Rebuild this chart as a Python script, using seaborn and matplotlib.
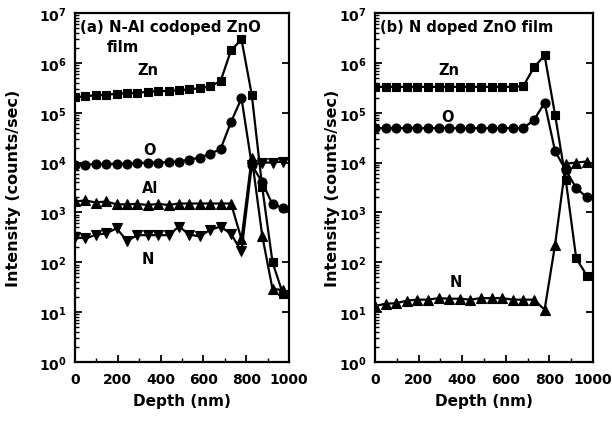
import math
import matplotlib
matplotlib.use("Agg")
import matplotlib.pyplot as plt
import seaborn as sns
import pandas as pd
from matplotlib.ticker import FixedLocator, LogLocator, NullFormatter, FuncFormatter

# ---------------- data ----------------
depth = [0, 49, 97, 146, 194, 243, 292, 340, 389, 437, 486,
         535, 583, 632, 680, 729, 778, 826, 875, 923, 972]

# (a) N-Al codoped ZnO film
a_zn = [2.04e5, 2.14e5, 2.24e5, 2.29e5, 2.40e5, 2.45e5, 2.51e5, 2.63e5, 2.69e5, 2.75e5, 2.82e5,
        2.95e5, 3.09e5, 3.39e5, 4.27e5, 1.78e6, 2.95e6, 2.29e5, 3.2e3, 1.0e2, 2.3e1]
a_o = [8.9e3, 9.1e3, 9.3e3, 9.3e3, 9.5e3, 9.5e3, 9.8e3, 1.0e4, 1.0e4, 1.02e4, 1.05e4,
       1.15e4, 1.26e4, 1.5e4, 1.86e4, 6.5e4, 1.95e5, 9.0e3, 4.0e3, 1.45e3, 1.23e3]
a_al = [1.66e3, 1.74e3, 1.58e3, 1.66e3, 1.45e3, 1.45e3, 1.48e3, 1.41e3, 1.48e3, 1.41e3, 1.51e3,
        1.51e3, 1.51e3, 1.51e3, 1.51e3, 1.51e3, 2.9e2, 1.26e4, 3.4e2, 2.9e1, 2.8e1]
a_n = [3.2e2, 3.0e2, 3.55e2, 3.8e2, 4.8e2, 2.7e2, 3.5e2, 3.5e2, 3.5e2, 3.5e2, 5.2e2,
       3.6e2, 3.3e2, 4.5e2, 5.2e2, 3.7e2, 1.66e2, 8.9e3, 1.0e4, 1.0e4, 1.05e4]

# (b) N doped ZnO film
b_zn = [3.3e5, 3.3e5, 3.3e5, 3.3e5, 3.3e5, 3.3e5, 3.3e5, 3.3e5, 3.3e5, 3.3e5, 3.3e5,
        3.3e5, 3.3e5, 3.3e5, 3.4e5, 8.1e5, 1.41e6, 9.1e4, 4.5e3, 1.2e2, 5.4e1]
b_o = [4.9e4, 4.9e4, 4.9e4, 4.9e4, 4.9e4, 4.9e4, 4.9e4, 4.9e4, 4.9e4, 4.9e4, 4.9e4,
       4.9e4, 4.9e4, 4.9e4, 4.9e4, 7.1e4, 1.58e5, 1.7e4, 7.0e3, 3.1e3, 2.0e3]
b_n = [1.32e1, 1.48e1, 1.51e1, 1.70e1, 1.78e1, 1.78e1, 1.91e1, 1.86e1, 1.86e1, 1.78e1, 1.91e1,
       1.91e1, 1.91e1, 1.78e1, 1.78e1, 1.78e1, 1.12e1, 2.24e2, 9.5e3, 1.0e4, 1.05e4]

x_ticks = [0, 200, 400, 600, 800, 1000]
y_decades = [1, 10, 100, 1e3, 1e4, 1e5, 1e6, 1e7]

panel_a_title = ["(a) N-Al codoped ZnO", "film"]
panel_b_title = "(b) N doped ZnO film"

# ---------------- style ----------------
sns.set_theme(style="ticks")
plt.rcParams["font.family"] = ["DejaVu Sans"]
plt.rcParams["font.weight"] = "bold"
plt.rcParams["axes.labelweight"] = "bold"
plt.rcParams["mathtext.default"] = "bf"
for key in ["text.color", "axes.labelcolor", "xtick.color", "ytick.color", "axes.edgecolor"]:
    plt.rcParams[key] = "black"

fig = plt.figure(figsize=(6.12, 4.27), dpi=100)
ax1 = fig.add_axes([75 / 612, 64 / 427, 214 / 612, 349 / 427])
ax2 = fig.add_axes([375 / 612, 64 / 427, 218 / 612, 349 / 427])


def draw(ax, series):
    for vals, marker, ms in series:
        df = pd.DataFrame({"depth": depth, "val": vals})
        sns.lineplot(data=df, x="depth", y="val", ax=ax, color="black",
                     marker=marker, markersize=ms, markeredgecolor="black",
                     markeredgewidth=0.8, linewidth=1.6, estimator=None, sort=False)


draw(ax1, [(a_zn, "s", 6.0), (a_o, "o", 6.5), (a_al, "^", 7.0), (a_n, "v", 7.0)])
draw(ax2, [(b_zn, "s", 6.0), (b_o, "o", 6.5), (b_n, "^", 7.0)])

for ax in (ax1, ax2):
    ax.set_yscale("log")
    ax.set_xlim(0, 1000)
    ax.set_ylim(1, 1e7)
    ax.xaxis.set_major_locator(FixedLocator(x_ticks))
    ax.xaxis.set_minor_locator(FixedLocator([100, 300, 500, 700, 900]))
    ax.yaxis.set_major_locator(FixedLocator(y_decades))
    ax.yaxis.set_minor_locator(LogLocator(base=10, subs=range(2, 10), numticks=20))
    ax.yaxis.set_minor_formatter(NullFormatter())
    ax.yaxis.set_major_formatter(FuncFormatter(
        lambda v, p: r"$\mathbf{10^{%d}}$" % round(math.log10(v))))
    ax.tick_params(axis="both", which="major", direction="in", length=5, width=1.3,
                   labelsize=10, pad=6, right=True, top=False, colors="black")
    ax.tick_params(axis="both", which="minor", direction="in", length=3, width=1.0,
                   colors="black")
    ax.tick_params(axis="x", which="major", pad=7)
    for s in ax.spines.values():
        s.set_linewidth(1.6)
        s.set_color("black")
    for lab in ax.get_xticklabels():
        lab.set_fontweight("bold")
    ax.set_xlabel("Depth (nm)", fontsize=11, fontweight="bold", color="black")
    ax.set_ylabel("Intensity (counts/sec)", fontsize=11.5, fontweight="bold", color="black")
    ax.xaxis.set_label_coords(0.5, -0.09)

ax1.yaxis.set_label_coords(-0.25, 0.5)
ax2.yaxis.set_label_coords(-0.16, 0.5)

# series labels
kw = dict(fontsize=10.5, fontweight="bold", ha="center", va="center", color="black")
ax1.text(340, 10 ** 5.86, "Zn", **kw)
ax1.text(350, 10 ** 4.27, "O", **kw)
ax1.text(350, 10 ** 3.5, "Al", **kw)
ax1.text(340, 10 ** 2.07, "N", **kw)
ax2.text(340, 10 ** 5.86, "Zn", **kw)
ax2.text(331, 10 ** 4.93, "O", **kw)
ax2.text(372, 10 ** 1.62, "N", **kw)

ax1.text(0.025, 0.96, panel_a_title[0], transform=ax1.transAxes, fontsize=10.8,
         fontweight="bold", ha="left", va="center", color="black")
ax1.text(0.15, 0.905, panel_a_title[1], transform=ax1.transAxes, fontsize=10.8,
         fontweight="bold", ha="left", va="center", color="black")
ax2.text(0.025, 0.96, panel_b_title, transform=ax2.transAxes, fontsize=10.5,
         fontweight="bold", ha="left", va="center", color="black")

fig.savefig("out.png", dpi=100)
